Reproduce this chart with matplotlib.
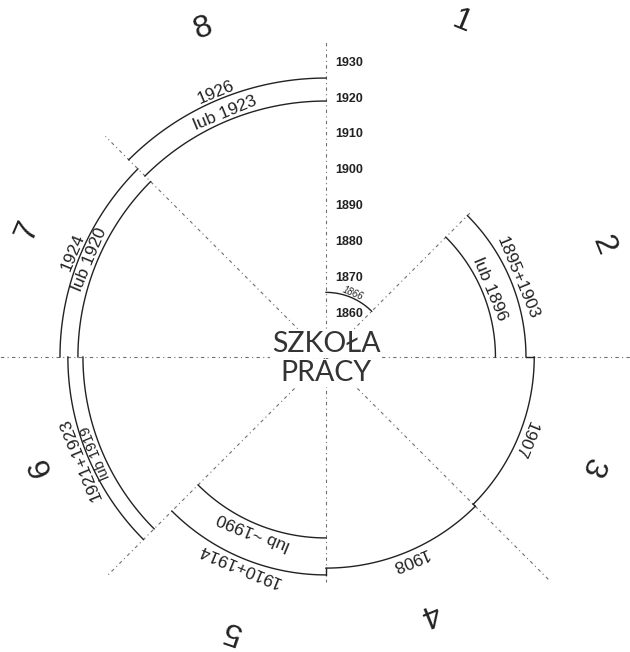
import numpy as np
import matplotlib
matplotlib.use('Agg')
import matplotlib.pyplot as plt

# years marked on the vertical axis
axis_years = [1860, 1870, 1880, 1890, 1900, 1910, 1920, 1930]

# the 8 sectors, numbered clockwise from the top
sector_names = ['1', '2', '3', '4', '5', '6', '7', '8']

# arcs: sector, radial position in years, label
arc_sector = [1, 2, 2, 3, 4, 5, 5, 6, 6, 7, 7, 8, 8]
arc_year = [1866.0, 1903.7, 1895.2, 1906.0, 1906.8, 1908.7, 1898.4,
            1919.9, 1915.7, 1922.1, 1917.1, 1925.7, 1919.3]
arc_label = ['1866', '1895+1903', 'lub 1896', '1907', '1908', '1910+1914', 'lub ~1990',
             '1921+1923', 'lub 1919', '1924', 'lub 1920', '1926', 'lub 1923']
arc_fs = [7, 12.5, 12.5, 12.5, 12.5, 12.5, 12.5, 12.5, 10.5, 12.5, 12.5, 12.5, 12.5]

# arcs joined by a short radial step at the sector border
joins = [(1, 3), (3, 4), (4, 5)]

# dash-dot rays every 45 degrees, how far out each one goes (years)
ray_angle = [0, 45, 90, 135, 180, 225, 270, 315]
ray_end = [1932.7, 1905.1, 1936.3, 1934.9, 1938.8, 1934.4, 1910.7, 1936.0]

# where the big sector numbers sit (angle in deg, radial position in years)
num_angle = [67.9, 22.0, -22.5, -67.9, -109.0, 201.0, 157.0, 110.5]
num_r = [1948.6, 1931.3, 1928.2, 1924.9, 1928.5, 1933.0, 1938.2, 1945.8]

# scale: 3.59 px per year, centre of the wheel = 1848
px_per_year = 3.59
origin = 1848.0
R_px = 330
cx, cy = 326, 357
W, H = 630, 652

ink = '#222222'
grey = '#707070'

fig = plt.figure(figsize=(W / 100, H / 100), dpi=100)
ax = fig.add_axes([(cx - R_px) / W, (H - cy - R_px) / H, 2 * R_px / W, 2 * R_px / H],
                  projection='polar')
ax.set_ylim(origin, origin + R_px / px_per_year)
ax.set_axis_off()


def sector_span(k):
    a0 = 90 - 45 * (k - 1)
    return a0, a0 - 45


# rays
for a, r_end in zip(ray_angle, ray_end):
    t = np.deg2rad(a)
    ax.plot([t, t], [origin, r_end], color=grey, lw=0.8,
            linestyle=(0, (3, 3, 1, 3)), clip_on=False, zorder=1)

# arcs + labels
for k, yr, lab, fs in zip(arc_sector, arc_year, arc_label, arc_fs):
    a0, a1 = sector_span(k)
    th = np.deg2rad(np.linspace(a0, a1, 120))
    ax.plot(th, np.full_like(th, yr), color=ink, lw=1.0, zorder=3)
    mid = (a0 + a1) / 2
    gap = 0.62 * fs
    style = 'italic' if lab == '1866' else 'normal'
    ax.annotate(lab, xy=(np.deg2rad(mid), yr),
                xytext=(gap * np.cos(np.deg2rad(mid)), gap * np.sin(np.deg2rad(mid))),
                textcoords='offset pixels', rotation=mid - 90, rotation_mode='anchor',
                ha='center', va='center', fontsize=fs, color=ink, style=style,
                family='Liberation Sans', zorder=4)

# radial steps between neighbouring arcs
for i, j in joins:
    a = np.deg2rad(sector_span(arc_sector[i])[1])
    ax.plot([a, a], [arc_year[i], arc_year[j]], color=ink, lw=1.0, zorder=3)

# year labels on the vertical axis
for y in axis_years:
    ax.annotate(str(y), xy=(np.pi / 2, y), xytext=(9, 0), textcoords='offset pixels',
                ha='left', va='center', fontsize=9, fontweight='bold', color=ink,
                family='Liberation Sans', zorder=4)

# sector numbers
for name, ang, rr in zip(sector_names, num_angle, num_r):
    ax.text(np.deg2rad(ang), rr, name, rotation=ang - 90, rotation_mode='anchor',
            ha='center', va='center', fontsize=23, color=ink,
            family='Liberation Sans', clip_on=False)

# centre title
for txt, dy in [('SZKOŁA', 13), ('PRACY', -16)]:
    ax.annotate(txt, xy=(0, origin), xytext=(0, dy), textcoords='offset pixels',
                ha='center', va='center', fontsize=20.5, color='#333333',
                family=['Lato', 'DejaVu Sans'], zorder=5,
                bbox=dict(boxstyle='square,pad=0.05', fc='white', ec='none'))

fig.savefig('out.png', dpi=100)
